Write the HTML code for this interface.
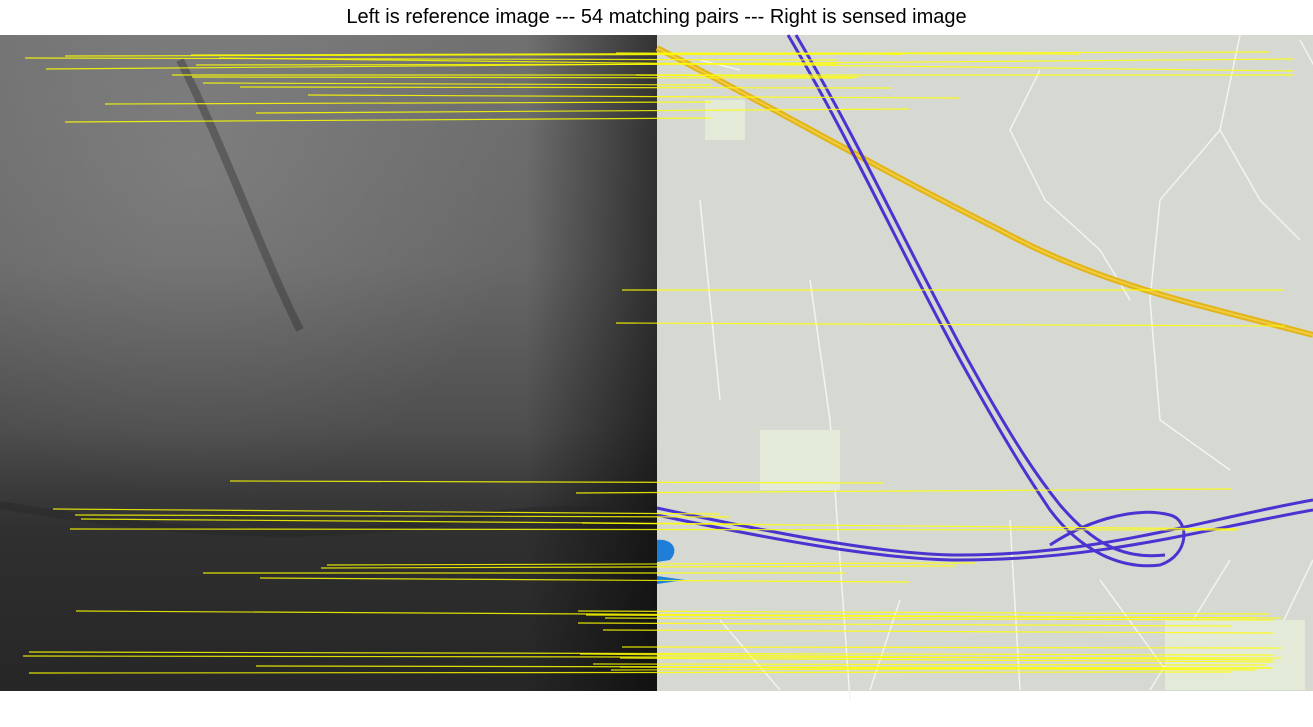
<!DOCTYPE html>
<html><head><meta charset="utf-8"><style>
body{margin:0;background:#fff;width:1313px;height:727px;overflow:hidden;font-family:"Liberation Sans",sans-serif}
#title{position:absolute;top:6px;left:0;width:1313px;text-align:center;font-size:20px;color:#000}
svg{position:absolute;left:0;top:0}
</style></head><body>
<div id="title">Left is reference image --- 54 matching pairs --- Right is sensed image</div>
<svg width="1313" height="727">
<defs>
<linearGradient id="g1" x1="0" x2="0" y1="0" y2="1">
<stop offset="0" stop-color="#707070"/><stop offset="0.35" stop-color="#686868"/><stop offset="0.6" stop-color="#4e4e4e"/><stop offset="0.75" stop-color="#303030"/><stop offset="1" stop-color="#262626"/>
</linearGradient>
<radialGradient id="g3" cx="0.3" cy="0.2" r="0.5"><stop offset="0" stop-color="#fff" stop-opacity="0.12"/><stop offset="1" stop-color="#fff" stop-opacity="0"/></radialGradient>
<linearGradient id="g2" x1="0" x2="1" y1="0" y2="0"><stop offset="0.8" stop-color="#000" stop-opacity="0"/><stop offset="1" stop-color="#000" stop-opacity="0.55"/></linearGradient>
</defs>
<rect x="0" y="35" width="657" height="656" fill="url(#g1)"/>
<rect x="0" y="35" width="657" height="656" fill="url(#g3)"/>
<rect x="0" y="35" width="657" height="656" fill="url(#g2)"/>
<g stroke="#222" stroke-opacity="0.35" stroke-width="8" fill="none">
<path d="M0,505 C150,530 300,545 450,520 C550,505 600,510 657,515"/>
<path d="M180,60 C230,160 260,250 300,330"/>
</g>
<g>
<rect x="657" y="35" width="656" height="656" fill="#d6d9d1"/>
<g stroke="#f4f4ee" stroke-width="1.5" fill="none">
<path d="M700,60 L740,70 M1040,70 L1010,130 L1045,200 L1100,250 L1130,300"/>
<path d="M1240,35 L1220,130 L1160,200 L1150,300 L1160,420 L1230,470"/>
<path d="M1300,40 L1360,150 M1220,130 L1260,200 L1300,240"/>
<path d="M810,280 L830,420 L850,700 M720,620 L780,690 M900,600 L870,690 M1010,520 L1020,690"/>
<path d="M1100,580 L1180,690 M1230,560 L1150,690 M1313,560 L1250,690 M700,200 L720,400"/>
</g>
<g fill="#e3ead8"><rect x="705" y="100" width="40" height="40"/><rect x="760" y="430" width="80" height="60"/><rect x="1165" y="620" width="140" height="70"/></g>
<path d="M657,48 C760,100 880,170 1000,230 C1100,285 1200,305 1313,335" stroke="#e3b41a" stroke-width="6" fill="none"/>
<path d="M657,48 C760,100 880,170 1000,230 C1100,285 1200,305 1313,335" stroke="#f0cc40" stroke-width="2" fill="none"/>
<g stroke="#4a33d0" stroke-width="3" fill="none">
<path d="M788,35 C850,140 900,250 960,360 C1010,450 1030,480 1050,510 C1080,550 1120,570 1160,565 C1190,555 1190,520 1170,515 C1130,505 1080,525 1050,545"/>
<path d="M796,35 C858,140 908,250 968,360 C1018,450 1040,480 1060,505 C1090,540 1120,560 1165,555"/>
<path d="M657,508 C760,530 880,555 960,555 C1100,555 1200,520 1313,500"/>
<path d="M657,515 C760,537 880,560 960,560 C1100,560 1200,530 1313,510"/>
</g>
<path d="M657,540 C672,538 680,550 670,560 L657,562 Z M657,576 L685,580 L657,584 Z" fill="#1f7fd8"/>
</g>
<g id="lines"></g>
</svg>
<script>
const x1=[25,65,191,46,219,196,172,192,203,240,308,105,256,65,616,636,622,616,230,576,53,75,81,582,70,327,321,203,260,76,578,586,605,578,603,622,29,23,580,620,256,593,620,29,611];
const y1=[58,56,55,69,58,65,75,77,83,87,95,104,113,122,53,75,290,323,481,493,509,515,519,523,529,565,568,573,578,611,611,615,618,623,630,647,652,656,654,658,666,664,667,673,670];
const x2=[837,902,1269,1294,1294,837,1294,854,712,892,959,712,909,712,1080,860,1283,1285,884,1231,720,729,741,1239,1235,976,955,846,909,1281,1270,1256,1273,1231,1273,1281,1273,1281,1273,1273,1273,1265,1256,1231,1270];
const y2=[60,54,52,59,71,64,75,78,85,88,98,102,109,118,54,77,290,326,483,489,514,517,524,529,530,563,566,573,582,618,614,618,620,626,633,648,655,658,660,662,668,665,670,672,668];
const g=document.getElementById('lines');
for(let i=0;i<x1.length;i++){
 const l=document.createElementNS('http://www.w3.org/2000/svg','line');
 l.setAttribute('x1',x1[i]);l.setAttribute('y1',y1[i]);l.setAttribute('x2',x2[i]);l.setAttribute('y2',y2[i]);
 l.setAttribute('stroke','#ffff00');l.setAttribute('stroke-width','1.2');l.setAttribute('stroke-opacity','0.85');
 
 
 g.appendChild(l);
}
</script>
</body></html>
